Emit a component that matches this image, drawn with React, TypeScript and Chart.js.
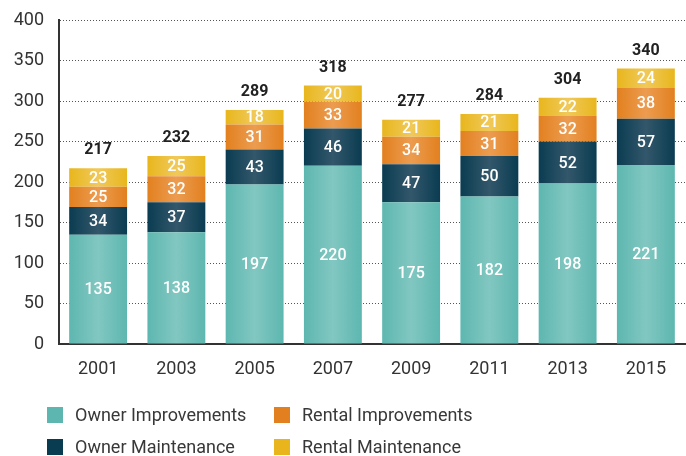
import React, { useEffect, useRef } from "react";
import { Chart, registerables } from "chart.js";

Chart.register(...registerables);

const categories = ["2001", "2003", "2005", "2007", "2009", "2011", "2013", "2015"];
const ownerImprovements = [135, 138, 197, 220, 175, 182, 198, 221];
const ownerMaintenance = [34, 37, 43, 46, 47, 50, 52, 57];
const rentalImprovements = [25, 32, 31, 33, 34, 31, 32, 38];
const rentalMaintenance = [23, 25, 18, 20, 21, 21, 22, 24];
const totals = [217, 232, 289, 318, 277, 284, 304, 340];

const seriesNames = ["Owner Improvements", "Owner Maintenance", "Rental Improvements", "Rental Maintenance"];
const baseColors = ["#5db7b0", "#0a3c51", "#e2801f", "#e8b61c"];
const lightColors = ["#82c7c1", "#33576b", "#ec9c50", "#f0c95a"];

const FONT = "Roboto, 'DejaVu Sans', sans-serif";
const BAR_PCT = 0.74;

function gradientFor(i: number) {
  return (ctx: any) => {
    const chart = ctx.chart;
    const xs = chart.scales?.x;
    if (!chart.chartArea || !xs || ctx.dataIndex === undefined) return baseColors[i];
    const cx = xs.getPixelForValue(ctx.dataIndex);
    const w = (xs.width / categories.length) * BAR_PCT;
    const g = chart.ctx.createLinearGradient(cx - w / 2, 0, cx + w / 2, 0);
    g.addColorStop(0, baseColors[i]);
    g.addColorStop(0.5, lightColors[i]);
    g.addColorStop(1, baseColors[i]);
    return g;
  };
}

const labelPlugin = {
  id: "segLabels",
  afterDatasetsDraw(chart: any) {
    const c = chart.ctx;
    c.save();
    c.textAlign = "center";
    c.textBaseline = "middle";
    chart.data.datasets.forEach((ds: any, di: number) => {
      const meta = chart.getDatasetMeta(di);
      meta.data.forEach((el: any, i: number) => {
        const y = (el.y + el.base) / 2;
        c.fillStyle = "#ffffff";
        c.font = `500 16px ${FONT}`;
        c.fillText(String(ds.data[i]), el.x, y + 1);
      });
    });
    const last = chart.getDatasetMeta(chart.data.datasets.length - 1);
    last.data.forEach((el: any, i: number) => {
      c.fillStyle = "#222222";
      c.font = `bold 16px ${FONT}`;
      c.fillText(String(totals[i]), el.x, el.y - 18);
    });
    c.restore();
  },
};

const legendPlugin = {
  id: "customLegend",
  afterDraw(chart: any) {
    const c = chart.ctx;
    c.save();
    const pos = [
      { x: 47, y: 415 },
      { x: 47, y: 447 },
      { x: 274, y: 415 },
      { x: 274, y: 447 },
    ];
    seriesNames.forEach((name, i) => {
      const p = pos[i];
      c.fillStyle = baseColors[i];
      c.fillRect(p.x, p.y - 8, 16, 16);
      c.fillStyle = "#383838";
      c.font = `18px ${FONT}`;
      c.textAlign = "left";
      c.textBaseline = "middle";
      c.fillText(name, p.x + 28, p.y + 1);
    });
    c.restore();
  },
};

export default function App() {
  const ref = useRef<HTMLCanvasElement>(null);
  useEffect(() => {
    if (!ref.current) return;
    const seriesData = [ownerImprovements, ownerMaintenance, rentalImprovements, rentalMaintenance];
    const chart = new Chart(ref.current, {
      type: "bar",
      data: {
        labels: categories,
        datasets: seriesNames.map((n, i) => ({
          label: n,
          data: seriesData[i],
          backgroundColor: gradientFor(i),
          borderWidth: 0,
          barPercentage: BAR_PCT,
          categoryPercentage: 1,
        })),
      },
      options: {
        animation: false,
        responsive: false,
        maintainAspectRatio: false,
        layout: { padding: { top: 0, right: 1, left: 0, bottom: 0 } },
        plugins: { legend: { display: false }, tooltip: { enabled: false } },
        scales: {
          x: {
            stacked: true,
            grid: { display: false, drawTicks: false },
            border: { display: true, color: "#333333", width: 2 },
            ticks: { color: "#333333", font: { family: FONT, size: 18 }, padding: 15 },
            afterFit: (s: any) => {
              s.height = 112;
            },
          },
          y: {
            stacked: true,
            min: 0,
            max: 400,
            grid: { color: "#555555", lineWidth: 1, drawTicks: false },
            border: { display: true, color: "#333333", width: 2, dash: [1, 2] } as any,
            ticks: { stepSize: 50, color: "#333333", font: { family: FONT, size: 18, lineHeight: 1 }, padding: 15 },
            afterFit: (s: any) => {
              s.width = 59;
              s.paddingTop = 20;
            },
          },
        },
      },
      plugins: [labelPlugin, legendPlugin],
    });
    return () => chart.destroy();
  }, []);
  return (
    <div style={{ position: "fixed", left: 0, top: 0, width: 686, height: 456, background: "#fff" }}>
      <canvas ref={ref} width={686} height={456} style={{ width: 686, height: 456 }} />
    </div>
  );
}
